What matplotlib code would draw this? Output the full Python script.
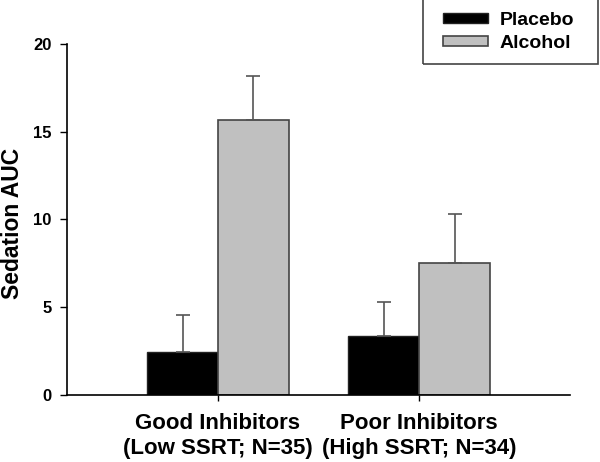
import matplotlib
matplotlib.use("Agg")
import matplotlib.pyplot as plt
from matplotlib.patches import Rectangle
import numpy as np

plt.rcParams["font.family"] = ["Liberation Sans", "DejaVu Sans"]
plt.rcParams["font.weight"] = "bold"

# data
groups = ["Good Inhibitors\n(Low SSRT; N=35)", "Poor Inhibitors\n(High SSRT; N=34)"]
placebo = [2.47, 3.38]
alcohol = [15.65, 7.54]
placebo_err = [2.11, 1.92]
alcohol_err = [2.54, 2.79]
yticks = [0, 5, 10, 15, 20]

W, H = 600, 462
fig = plt.figure(figsize=(W / 100, H / 100), dpi=100)
ax = fig.add_axes([0.1117, 0.145, 0.8383, 0.76])

x = np.arange(1, len(groups) + 1)
w = 0.353
ax.bar(x - w / 2, placebo, w, color="black", edgecolor="#222222", linewidth=1, label="Placebo")
ax.bar(x + w / 2, alcohol, w, color="#c0c0c0", edgecolor="#444444", linewidth=1.2, label="Alcohol")
ax.errorbar(x - w / 2, placebo, yerr=[np.zeros(2), placebo_err], fmt="none",
            ecolor="#555555", elinewidth=1.2, capsize=5, capthick=1.2)
ax.errorbar(x + w / 2, alcohol, yerr=[np.zeros(2), alcohol_err], fmt="none",
            ecolor="#555555", elinewidth=1.2, capsize=5, capthick=1.2)

ax.set_xlim(0.249, 2.751)
ax.set_ylim(0, 20)
ax.set_yticks(yticks)
ax.set_xticks(x)
ax.set_xticklabels(groups, fontsize=16, fontweight="bold", linespacing=1.25)
ax.tick_params(axis="y", labelsize=12, direction="out", length=5, width=1, pad=6)
ax.tick_params(axis="x", direction="out", length=4, width=1, pad=9)
for lab in ax.get_yticklabels():
    lab.set_fontweight("bold")
fig.text(13 / W, 1 - 223 / H, "Sedation AUC", rotation=90, ha="center", va="center",
         fontsize=16.5, fontweight="bold")

ax.spines["top"].set_visible(False)
ax.spines["right"].set_visible(False)
ax.spines["left"].set_linewidth(1.2)
ax.spines["bottom"].set_linewidth(1.2)

# legend entries without frame, box drawn separately (wider side padding)
leg = fig.legend(loc="upper left", bbox_to_anchor=(443 / W, 1 - 12 / H), frameon=False,
                 fontsize=14, handlelength=2.3, handleheight=0.42, handletextpad=0.6,
                 borderpad=0, borderaxespad=0, labelspacing=0.32)
for t in leg.get_texts():
    t.set_fontweight("bold")
fig.patches.append(Rectangle((423 / W, 1 - 64 / H), 175 / W, 70 / H, transform=fig.transFigure,
                             facecolor="none", edgecolor="#444444", linewidth=1.2))

fig.savefig("out.png", dpi=100)
